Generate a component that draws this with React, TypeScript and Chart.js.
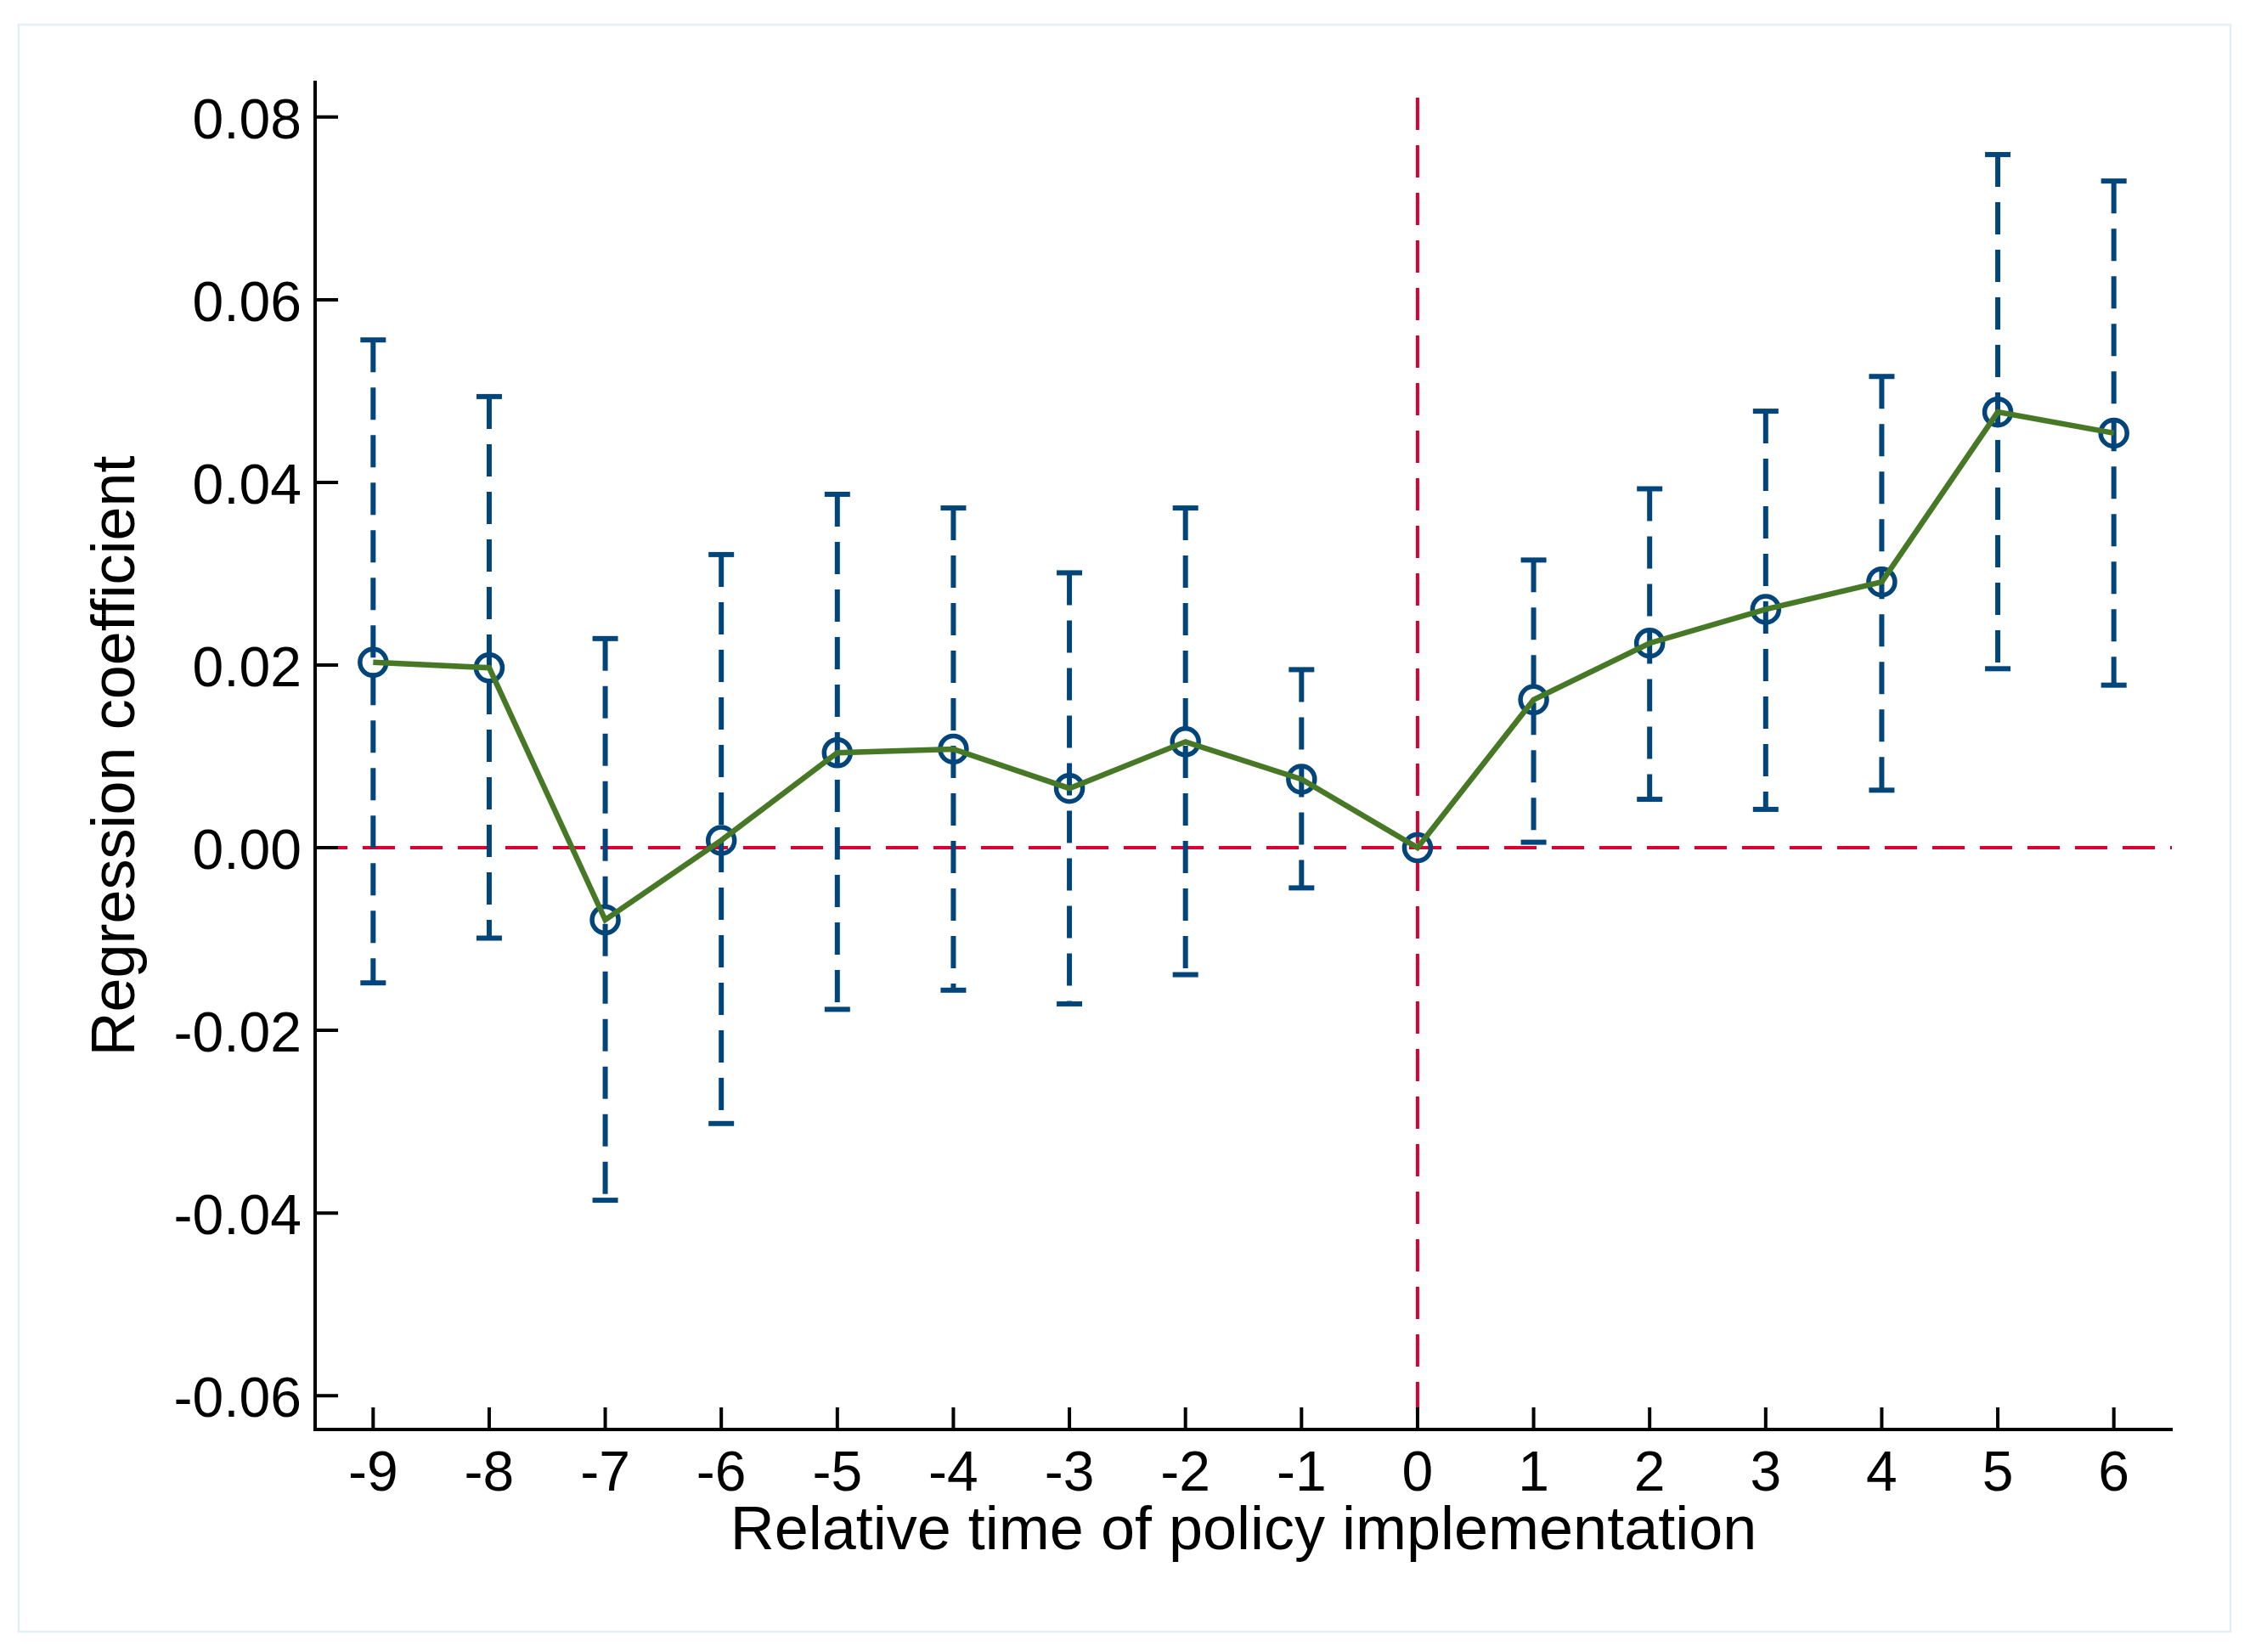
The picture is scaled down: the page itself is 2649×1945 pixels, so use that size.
import React, { useEffect, useRef } from "react";
import { Chart, registerables } from "chart.js";

Chart.register(...registerables);

// ---- data ----
const periods = [-9, -8, -7, -6, -5, -4, -3, -2, -1, 0, 1, 2, 3, 4, 5, 6];
const coefficients = [0.0203, 0.0197, -0.0079, 0.0008, 0.0104, 0.0108, 0.0065, 0.0116, 0.0075, 0, 0.0162, 0.0224, 0.0261, 0.0291, 0.0477, 0.0454];
const ciUpper = [0.0556, 0.0494, 0.0229, 0.0321, 0.0387, 0.0372, 0.0301, 0.0372, 0.0195, 0, 0.0315, 0.0393, 0.0478, 0.0516, 0.0759, 0.073];
const ciLower = [-0.0148, -0.0099, -0.0386, -0.0302, -0.0177, -0.0156, -0.0171, -0.0139, -0.0044, 0, 0.0006, 0.0053, 0.0042, 0.0063, 0.0196, 0.0178];
const xTickValues = [-9, -8, -7, -6, -5, -4, -3, -2, -1, 0, 1, 2, 3, 4, 5, 6];
const xTickLabels = ["-9", "-8", "-7", "-6", "-5", "-4", "-3", "-2", "-1", "0", "1", "2", "3", "4", "5", "6"];
const yTickValues = [-0.06, -0.04, -0.02, 0, 0.02, 0.04, 0.06, 0.08];
const yTickLabels = ["-0.06", "-0.04", "-0.02", "0.00", "0.02", "0.04", "0.06", "0.08"];
const xRange = [-9.5, 6.5];
const yRange = [-0.0637, 0.0838];
const xTitle = "Relative time of policy implementation";
const yTitle = "Regression coefficient";

// ---- styles ----
const W = 2649;
const H = 1945;
const FONT = "'Liberation Sans', Arial, Helvetica, sans-serif";
const BLUE = "#01457a";
const GREEN = "#477826";
const RED = "#db0032";
const DASH = [38, 18];

const framePlugin = {
  id: "frame",
  beforeDraw(chart: any) {
    const { ctx } = chart;
    ctx.save();
    ctx.fillStyle = "#ffffff";
    ctx.fillRect(0, 0, chart.width, chart.height);
    ctx.strokeStyle = "#e4eff2";
    ctx.lineWidth = 2.5;
    ctx.strokeRect(22, 29, 2626 - 22, 1921 - 29);
    ctx.restore();
  },
};

const inwardTicksPlugin = {
  id: "inwardTicks",
  afterDatasetsDraw(chart: any) {
    const { ctx, chartArea, scales } = chart;
    ctx.save();
    ctx.strokeStyle = "#000000";
    ctx.lineWidth = 4;
    ctx.lineCap = "butt";
    ctx.beginPath();
    for (const v of xTickValues) {
      const px = scales.x.getPixelForValue(v);
      ctx.moveTo(px, chartArea.bottom);
      ctx.lineTo(px, chartArea.bottom - 26);
    }
    for (const v of yTickValues) {
      const py = scales.y.getPixelForValue(v);
      ctx.moveTo(chartArea.left, py);
      ctx.lineTo(chartArea.left + 27, py);
    }
    ctx.stroke();
    ctx.restore();
  },
};

export default function App() {
  const canvasRef = useRef<HTMLCanvasElement | null>(null);

  useEffect(() => {
    document.body.style.margin = "0";
    const canvas = canvasRef.current;
    if (!canvas) return;

    const errorBars = periods
      .map((p, i) => ({ p, hi: ciUpper[i], lo: ciLower[i] }))
      .filter((d) => d.hi !== d.lo)
      .map((d) => ({
        data: [
          { x: d.p, y: d.hi },
          { x: d.p, y: d.lo },
        ],
        showLine: true,
        borderColor: BLUE,
        borderWidth: 6,
        borderDash: DASH,
        pointStyle: "line",
        pointRadius: 15,
        pointBorderWidth: 6,
        pointBorderColor: BLUE,
        pointBackgroundColor: BLUE,
        order: 3,
      }));

    const points = periods.map((p, i) => ({ x: p, y: coefficients[i] }));

    const datasets: any[] = [
      {
        data: [
          { x: xRange[0], y: 0 },
          { x: xRange[1], y: 0 },
        ],
        showLine: true,
        borderColor: RED,
        borderWidth: 4,
        borderDash: DASH,
        pointRadius: 0,
        order: 10,
      },
      {
        data: [
          { x: 0, y: yRange[1] },
          { x: 0, y: yRange[0] },
        ],
        showLine: true,
        borderColor: RED,
        borderWidth: 4,
        borderDash: DASH,
        borderDashOffset: 38,
        pointRadius: 0,
        order: 10,
      },
      ...errorBars,
      {
        data: points,
        showLine: false,
        pointStyle: "circle",
        pointRadius: 15.5,
        pointBorderWidth: 5.5,
        pointBorderColor: BLUE,
        pointBackgroundColor: "rgba(0,0,0,0)",
        order: 2,
      },
      {
        data: points,
        showLine: true,
        borderColor: GREEN,
        borderWidth: 6.5,
        borderJoinStyle: "miter",
        pointRadius: 0,
        order: 1,
      },
    ];

    const chart = new Chart(canvas, {
      type: "scatter",
      data: { datasets },
      plugins: [framePlugin, inwardTicksPlugin],
      options: {
        responsive: false,
        animation: false,
        devicePixelRatio: 1,
        events: [],
        layout: { padding: { top: 97, right: 92, left: 0, bottom: 0 } },
        plugins: {
          legend: { display: false },
          tooltip: { enabled: false },
        },
        scales: {
          x: {
            type: "linear",
            min: xRange[0],
            max: xRange[1],
            afterBuildTicks: (scale: any) => {
              scale.ticks = xTickValues.map((v) => ({ value: v }));
            },
            afterFit: (scale: any) => {
              scale.height = H - 1683;
            },
            grid: { display: false, drawTicks: false },
            border: { display: true, color: "#000000", width: 4 },
            ticks: {
              autoSkip: false,
              maxRotation: 0,
              padding: 14,
              color: "#000000",
              font: { family: FONT, size: 66 },
              callback: (_v: any, i: number) => xTickLabels[i],
            },
            title: {
              display: true,
              text: xTitle,
              color: "#000000",
              font: { family: FONT, size: 72 },
              padding: { top: 0, bottom: 98 },
            },
          },
          y: {
            type: "linear",
            min: yRange[0],
            max: yRange[1],
            afterBuildTicks: (scale: any) => {
              scale.ticks = yTickValues.map((v) => ({ value: v }));
            },
            afterFit: (scale: any) => {
              scale.width = 371;
            },
            grid: { display: false, drawTicks: false },
            border: { display: true, color: "#000000", width: 4 },
            ticks: {
              autoSkip: false,
              padding: 16,
              labelOffset: 7,
              color: "#000000",
              font: { family: FONT, size: 66 },
              callback: (_v: any, i: number) => yTickLabels[i],
            },
            title: {
              display: true,
              text: yTitle,
              color: "#000000",
              font: { family: FONT, size: 72 },
              padding: { top: 95, bottom: 0 },
            },
          },
        },
      } as any,
    });

    return () => {
      chart.destroy();
    };
  }, []);

  return (
    <canvas
      ref={canvasRef}
      width={W}
      height={H}
      style={{ display: "block", width: W + "px", height: H + "px" }}
    />
  );
}
